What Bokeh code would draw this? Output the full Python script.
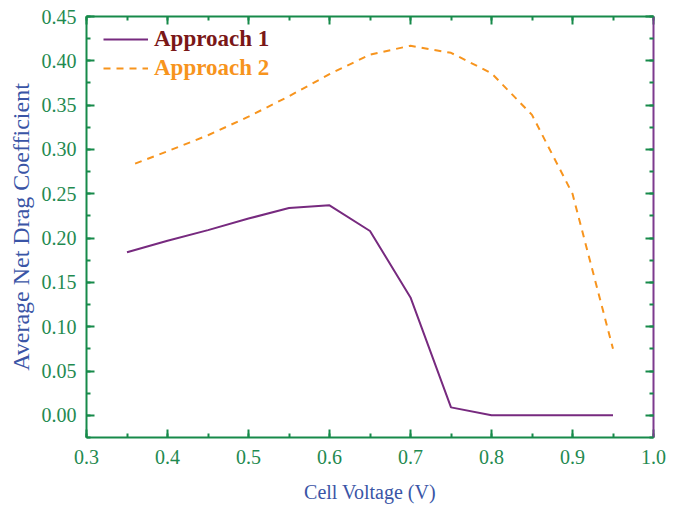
from bokeh.plotting import figure
from bokeh.models import (LinearAxis, Range1d, Legend, LegendItem,
                          SingleIntervalTicker, NumeralTickFormatter)
from bokeh.embed import file_html
from bokeh.resources import INLINE

# ---- data ----
voltage = [0.35, 0.40, 0.45, 0.50, 0.55, 0.60, 0.65, 0.70, 0.75, 0.80, 0.85, 0.90, 0.95]
approach1 = [0.184, 0.197, 0.209, 0.222, 0.234, 0.237, 0.208, 0.133, 0.009, 0.0, 0.0, 0.0, 0.0]
voltage2 = [0.36, 0.40, 0.45, 0.50, 0.55, 0.60, 0.65, 0.70, 0.75, 0.80, 0.85, 0.90, 0.95]
approach2 = [0.284, 0.298, 0.316, 0.337, 0.360, 0.385, 0.407, 0.417, 0.409, 0.386, 0.339, 0.250, 0.075]
series_names = ["Approach 1", "Approach 2"]

GREEN = "#178a4a"
TICKGREEN = "#1f8a50"
BLUE = "#3a55a6"
PURPLE_AX = "#7d3a8e"
PURPLE = "#772a7f"
ORANGE = "#f7941d"
DARKRED = "#7a1717"
FONT = "Liberation Serif"

p = figure(frame_width=567, frame_height=421,
           x_range=Range1d(0.3, 1.0), y_range=Range1d(-0.025, 0.45),
           output_backend="svg", toolbar_location=None,
           min_border_left=86, min_border_top=16, min_border_right=19, min_border_bottom=58,
           x_axis_label="Cell Voltage (V)", y_axis_label="Average Net Drag Coefficient")
p.outline_line_color = None
p.xgrid.visible = False
p.ygrid.visible = False
p.background_fill_color = "white"
p.border_fill_color = "white"

xt = SingleIntervalTicker(interval=0.1, num_minor_ticks=2)
yt = SingleIntervalTicker(interval=0.05, num_minor_ticks=2)

def style(ax, line_color, labels=True):
    ax.axis_line_color = line_color
    ax.axis_line_width = 2
    ax.major_tick_line_color = GREEN
    ax.minor_tick_line_color = GREEN
    ax.major_tick_line_width = 2
    ax.minor_tick_line_width = 2
    ax.major_tick_in = 8
    ax.major_tick_out = 0
    ax.minor_tick_in = 4
    ax.minor_tick_out = 0
    if labels:
        ax.major_label_text_font = FONT
        ax.major_label_text_font_size = "20px"
        ax.major_label_text_color = TICKGREEN
        ax.major_label_standoff = 10
        ax.axis_label_text_font = FONT
        ax.axis_label_text_font_size = "21px"
        ax.axis_label_text_font_style = "normal"
        ax.axis_label_text_color = BLUE
        ax.axis_label_standoff = 12
    else:
        ax.major_label_text_color = None
        ax.major_label_standoff = 0

p.xaxis.ticker = xt
p.yaxis.ticker = yt
p.xaxis.formatter = NumeralTickFormatter(format="0.0")
p.yaxis.formatter = NumeralTickFormatter(format="0.00")
style(p.xaxis[0], GREEN)
style(p.yaxis[0], GREEN)
p.xaxis.major_label_standoff = 12
p.xaxis.axis_label_standoff = 14
p.xaxis.axis_label_text_font_size = "20px"
p.yaxis.axis_label_text_font_size = "24px"
p.yaxis.axis_label_standoff = 5

top = LinearAxis(ticker=SingleIntervalTicker(interval=0.1, num_minor_ticks=2))
style(top, GREEN, labels=False)
p.add_layout(top, "above")
right = LinearAxis(ticker=SingleIntervalTicker(interval=0.05, num_minor_ticks=2))
style(right, PURPLE_AX, labels=False)
p.add_layout(right, "right")

r1 = p.line(voltage, approach1, line_color=PURPLE, line_width=2)
r2 = p.line(voltage2, approach2, line_color=ORANGE, line_width=2, line_dash="7 6")

def make_legend(name, rend, color, loc):
    lg = Legend(items=[LegendItem(label=name, renderers=[rend])], location=loc)
    lg.border_line_color = None
    lg.background_fill_alpha = 0
    lg.padding = 0
    lg.margin = 0
    lg.spacing = 0
    lg.glyph_width = 45
    lg.glyph_height = 24
    lg.label_height = 24
    lg.label_standoff = 6
    lg.label_text_font = FONT
    lg.label_text_font_size = "23px"
    lg.label_text_font_style = "bold"
    lg.label_text_color = color
    p.add_layout(lg)

make_legend(series_names[0], r1, DARKRED, (17, 385))
make_legend(series_names[1], r2, ORANGE, (17, 356))

open("out.html", "w").write(file_html(p, INLINE))
